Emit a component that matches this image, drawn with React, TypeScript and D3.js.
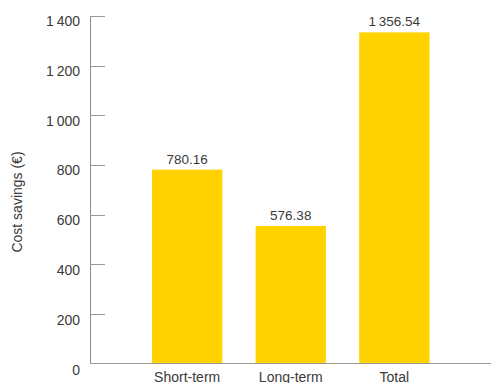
import React from "react";
import * as d3 from "d3";

const categories = ["Short-term", "Long-term", "Total"];
// bar heights as drawn in the picture
const barValues = [781, 554, 1334];
// value labels printed above the bars
const valueLabels = ["780.16", "576.38", "1\u2009356.54"];
const yTicks = [0, 200, 400, 600, 800, 1000, 1200, 1400];
const yTickLabels = ["0", "200", "400", "600", "800", "1\u2009000", "1\u2009200", "1\u2009400"];

const W = 493;
const H = 383;
const FONT = "'Liberation Sans', Arial, Helvetica, sans-serif";

export default function App() {
  const y = d3.scaleLinear().domain([0, 1400]).range([363.5, 16]);
  const step = 103.6;
  const barW = 70.3;
  const x = d3
    .scaleBand<string>()
    .domain(categories)
    .range([152, 152 + 2 * step + barW])
    .paddingInner((step - barW) / step)
    .paddingOuter(0);
  const bw = x.bandwidth();

  return (
    <svg
      width={W}
      height={H}
      style={{ position: "absolute", left: 0, top: 0, display: "block" }}
    >
      <rect width={W} height={H} fill="#fff" />
      {categories.map((c, i) => (
        <rect
          key={c}
          x={x(c)}
          y={y(barValues[i])}
          width={bw}
          height={y(0) - y(barValues[i])}
          fill="#FFD200"
        />
      ))}
      <line x1={90.5} x2={90.5} y1={16} y2={364} stroke="#8a8a8a" strokeWidth={1} />
      <line x1={90} x2={491} y1={363.5} y2={363.5} stroke="#9a9a9a" strokeWidth={1} />
      {yTicks.map((t, i) => (
        <g key={t}>
          {t > 0 && (
            <line x1={90} x2={105} y1={Math.round(y(t)) + 0.5} y2={Math.round(y(t)) + 0.5} stroke="#9a9a9a" strokeWidth={1} />
          )}
          <text
            x={80}
            y={y(t) + 11.5 - i * 0.25}
            textAnchor="end"
            fontFamily={FONT}
            fontSize={14}
            fill="#3a3a3a"
          >
            {yTickLabels[i]}
          </text>
        </g>
      ))}
      {categories.map((c, i) => (
        <text
          key={c}
          x={(x(c) as number) + bw / 2}
          y={y(barValues[i]) - 6}
          textAnchor="middle"
          fontFamily={FONT}
          fontSize={13.5}
          fill="#3a3a3a"
        >
          {valueLabels[i]}
        </text>
      ))}
      {categories.map((c) => (
        <text
          key={c}
          x={(x(c) as number) + bw / 2}
          y={381.5}
          textAnchor="middle"
          fontFamily={FONT}
          fontSize={14}
          fill="#3a3a3a"
        >
          {c}
        </text>
      ))}
      <text
        transform={`translate(22,202) rotate(-90)`}
        textAnchor="middle"
        fontFamily={FONT}
        fontSize={14}
        fill="#3a3a3a"
      >
        Cost savings (€)
      </text>
    </svg>
  );
}
